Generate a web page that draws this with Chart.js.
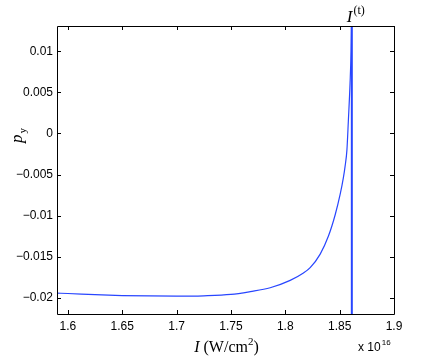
<!DOCTYPE html>
<html>
<head>
<meta charset="utf-8">
<script src="https://cdn.jsdelivr.net/npm/chart.js@4"></script>
<style>
  html, body { margin: 0; padding: 0; background: #fff; }
  #wrap { width: 436px; height: 356px; }
</style>
</head>
<body>
<div id="wrap"><canvas id="chart" width="436" height="356"></canvas></div>
<script>
// Datos de la curva p_y(I), I en unidades de 10^16 W/cm^2
const intensidad = [1.59, 1.60, 1.625, 1.65, 1.675, 1.70, 1.725, 1.75, 1.7678, 1.7861, 1.8045, 1.8167,
    1.8229, 1.8321, 1.8397, 1.8459, 1.8505, 1.8534, 1.855, 1.8567, 1.858, 1.8596, 1.8605, 1.8612];
const py = [-0.01946, -0.0195, -0.01965, -0.01975, -0.0198, -0.01982, -0.01978, -0.01962, -0.01927, -0.0188, -0.0179, -0.0170,
    -0.01635, -0.0147, -0.0125, -0.0099, -0.0074, -0.0054, -0.0040, -0.0020, 0.0015, 0.0062, 0.0100, 0.0160];

// Umbral I^(t)
const umbralX = [1.8612, 1.8612];
const umbralY = [-0.022, 0.0131];

// Ejes
const xTicks = [1.6, 1.65, 1.7, 1.75, 1.8, 1.85, 1.9];
const xTickLabels = ['1.6', '1.65', '1.7', '1.75', '1.8', '1.85', '1.9'];
const yTicks = [-0.02, -0.015, -0.01, -0.005, 0, 0.005, 0.01];
const yTickLabels = ['\u22120.02', '\u22120.015', '\u22120.01', '\u22120.005', '0', '0.005', '0.01'];

const azul = 'rgb(40,70,255)';
const fuenteTicks = { family: "'Liberation Sans', Arial, sans-serif", size: 12 };

// Marco y marcas hacia dentro, estilo MATLAB
const marcoPlugin = {
    id: 'marco',
    afterDraw(chart) {
        const { ctx, chartArea: a, scales } = chart;
        ctx.save();
        ctx.strokeStyle = '#000';
        ctx.lineWidth = 1;
        ctx.beginPath();
        ctx.rect(Math.round(a.left) + 0.5, Math.round(a.top) + 0.5,
            Math.round(a.right - a.left), Math.round(a.bottom - a.top));
        ctx.stroke();

        const largo = 4;
        ctx.beginPath();
        xTicks.forEach(v => {
            const px = Math.round(scales.x.getPixelForValue(v)) + 0.5;
            ctx.moveTo(px, a.bottom); ctx.lineTo(px, a.bottom - largo);
            ctx.moveTo(px, a.top); ctx.lineTo(px, a.top + largo);
        });
        yTicks.forEach(v => {
            const py = Math.round(scales.y.getPixelForValue(v)) + 0.5;
            ctx.moveTo(a.left, py); ctx.lineTo(a.left + largo, py);
            ctx.moveTo(a.right, py); ctx.lineTo(a.right - largo, py);
        });
        ctx.stroke();
        ctx.restore();
    }
};

// Textos: títulos de ejes, factor de escala y etiqueta del umbral
const textosPlugin = {
    id: 'textos',
    afterDraw(chart) {
        const { ctx, chartArea: a, scales } = chart;
        const serif = "'Liberation Serif', 'Times New Roman', serif";
        ctx.save();
        ctx.fillStyle = '#000';
        ctx.textBaseline = 'alphabetic';

        // Título eje X: I (W/cm^2)
        ctx.font = 'italic 16px ' + serif;
        const partI = 'I';
        const wI = ctx.measureText(partI + ' ').width;
        ctx.font = '16px ' + serif;
        const t1 = '(W/cm';
        const w1 = ctx.measureText(t1).width;
        ctx.font = '11px ' + serif;
        const w2 = ctx.measureText('2').width;
        ctx.font = '16px ' + serif;
        const w3 = ctx.measureText(')').width;
        const total = wI + w1 + w2 + w3;
        let x = (a.left + a.right) / 2 + 1 - total / 2;
        const base = 352;
        ctx.font = 'italic 16px ' + serif;
        ctx.fillText(partI, x, base);
        x += wI;
        ctx.font = '16px ' + serif;
        ctx.fillText(t1, x, base);
        x += w1;
        ctx.font = '11px ' + serif;
        ctx.fillText('2', x, base - 7);
        x += w2;
        ctx.font = '16px ' + serif;
        ctx.fillText(')', x, base);

        // x 10^16
        ctx.font = "12px 'Liberation Sans', Arial, sans-serif";
        ctx.fillText('x 10', 358, 351);
        const wx = ctx.measureText('x 10').width;
        ctx.font = "8px 'Liberation Sans', Arial, sans-serif";
        ctx.fillText('16', 358 + wx + 1, 345);

        // Título eje Y: p_y
        ctx.save();
        ctx.translate(22, 143);
        ctx.rotate(-Math.PI / 2);
        ctx.font = 'italic 17px ' + serif;
        ctx.fillText('p', 0, 0);
        const wp = ctx.measureText('p').width;
        ctx.font = '11px ' + serif;
        ctx.fillText('y', wp + 1, 4);
        ctx.restore();

        // Etiqueta I^(t)
        const ux = scales.x.getPixelForValue(umbralX[0]);
        ctx.font = 'italic 17px ' + serif;
        const wIt = ctx.measureText('I').width;
        ctx.fillText('I', ux - 5, 22);
        ctx.font = '12px ' + serif;
        ctx.fillText('(t)', ux - 5 + wIt + 1, 14);
        ctx.restore();
    }
};

const ctx = document.getElementById('chart').getContext('2d');
new Chart(ctx, {
    type: 'line',
    data: {
        datasets: [{
            label: 'p_y',
            data: intensidad.map((v, i) => ({ x: v, y: py[i] })),
            borderColor: azul,
            borderWidth: 1.2,
            pointRadius: 0,
            cubicInterpolationMode: 'monotone'
        }, {
            label: 'I(t)',
            data: umbralX.map((v, i) => ({ x: v, y: umbralY[i] })),
            borderColor: azul,
            borderWidth: 2,
            pointRadius: 0
        }]
    },
    options: {
        responsive: false,
        animation: false,
        devicePixelRatio: 1,
        layout: { padding: { top: 26, right: 42, bottom: 0, left: 0 } },
        plugins: {
            legend: { display: false },
            tooltip: { enabled: false }
        },
        scales: {
            x: {
                type: 'linear',
                min: 1.59,
                max: 1.9,
                grid: { display: false, drawTicks: false },
                border: { display: false },
                ticks: {
                    font: fuenteTicks,
                    color: '#000',
                    padding: 5,
                    maxRotation: 0,
                    callback: (v) => {
                        const i = xTicks.findIndex(t => Math.abs(t - v) < 1e-9);
                        return i >= 0 ? xTickLabels[i] : '';
                    }
                },
                afterBuildTicks: (scale) => { scale.ticks = xTicks.map(v => ({ value: v })); },
                afterFit: (scale) => { scale.height = 42; }
            },
            y: {
                type: 'linear',
                min: -0.022,
                max: 0.0131,
                grid: { display: false, drawTicks: false },
                border: { display: false },
                ticks: {
                    font: fuenteTicks,
                    color: '#000',
                    padding: 4,
                    callback: (v) => {
                        const i = yTicks.findIndex(t => Math.abs(t - v) < 1e-9);
                        return i >= 0 ? yTickLabels[i] : '';
                    }
                },
                afterBuildTicks: (scale) => { scale.ticks = yTicks.map(v => ({ value: v })); },
                afterFit: (scale) => { scale.width = 57; }
            }
        }
    },
    plugins: [marcoPlugin, textosPlugin]
});
</script>
</body>
</html>
